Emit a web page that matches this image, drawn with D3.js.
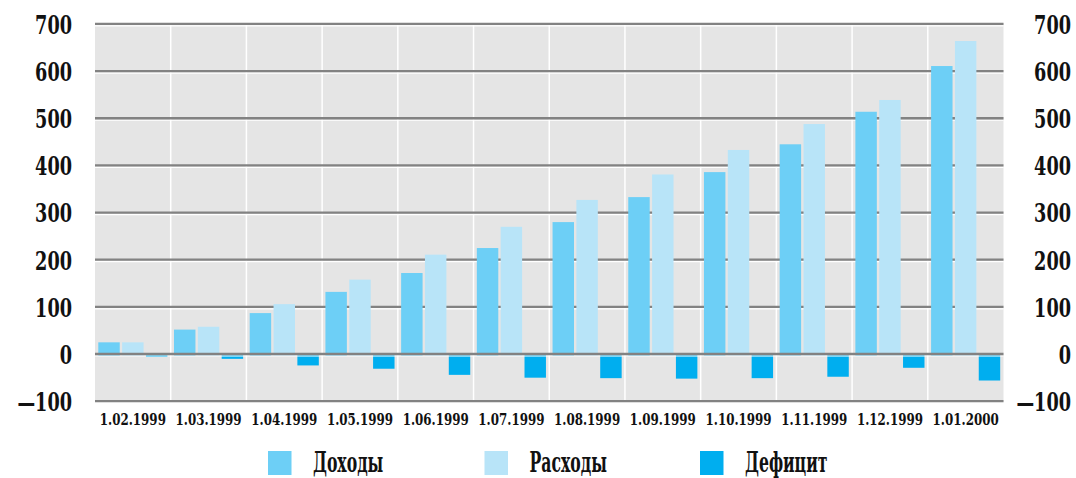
<!DOCTYPE html>
<html>
<head>
<meta charset="utf-8">
<script src="https://cdn.jsdelivr.net/npm/d3@7/dist/d3.min.js"></script>
<style>
  html, body { margin: 0; padding: 0; background: #fff; }
  svg { display: block; }
  text { font-family: "DejaVu Serif", serif; font-weight: bold; fill: #111; }
</style>
</head>
<body>
<svg id="chart" width="1076" height="478"></svg>
<script>
// Monthly budget figures, cumulative, Feb 1999 – Jan 2000
const categories = ["1.02.1999", "1.03.1999", "1.04.1999", "1.05.1999", "1.06.1999", "1.07.1999",
                    "1.08.1999", "1.09.1999", "1.10.1999", "1.11.1999", "1.12.1999", "1.01.2000"];
const income  = [29, 56, 91, 136, 176, 229, 284, 337, 390, 449, 518, 615];   // Доходы
const expense = [29, 62, 110, 162, 215, 274, 331, 385, 437, 492, 543, 668];  // Расходы
const deficit = [-2, -6, -20, -27, -40, -46, -47, -48, -47, -44, -25, -52];  // Дефицит
const seriesNames = ["Доходы", "Расходы", "Дефицит"];
const seriesColors = ["#6dcff6", "#b8e4f8", "#00aeef"];
const yTicks = [-100, 0, 100, 200, 300, 400, 500, 600, 700];
const yTickLabels = ["—100", "0", "100", "200", "300", "400", "500", "600", "700"];

const FONT = '"DejaVu Serif", serif';

const seriesValues = [income, expense, deficit];
const rows = categories.map((c, i) => ({
  cat: c,
  vals: seriesNames.map((s, k) => ({ key: s, value: seriesValues[k][i], color: seriesColors[k] }))
}));

const svg = d3.select("#chart");

const x0 = d3.scaleBand().domain(categories).range([95, 1003.5]).padding(0);
const x1 = d3.scaleBand().domain(seriesNames)
  .range([3.3, x0.bandwidth() - 3.3]).paddingInner(0.1);
const y = d3.scaleLinear().domain([-100, 700]).range([403.15, 25.95]);
const lineOff = -2; // grid rules sit just above their value

// plot panel
svg.append("rect")
  .attr("x", x0.range()[0]).attr("y", y(700) + lineOff - 1)
  .attr("width", x0.range()[1] - x0.range()[0])
  .attr("height", y(-100) - y(700) + 2)
  .attr("fill", "#e5e5e5");

// vertical separators between months
svg.append("g").selectAll("line")
  .data(categories.slice(1))
  .join("line")
  .attr("x1", d => x0(d)).attr("x2", d => x0(d))
  .attr("y1", y(700) + lineOff).attr("y2", y(-100) + lineOff)
  .attr("stroke", "#fff").attr("stroke-width", 1.5);

// horizontal rules: grey rule with a white highlight under it
function rule(g, v) {
  g.append("line")
    .attr("x1", x0.range()[0]).attr("x2", x0.range()[1])
    .attr("y1", y(v) + lineOff + 2).attr("y2", y(v) + lineOff + 2)
    .attr("stroke", "#fff").attr("stroke-width", 1.2);
  g.append("line")
    .attr("x1", x0.range()[0]).attr("x2", x0.range()[1])
    .attr("y1", y(v) + lineOff).attr("y2", y(v) + lineOff)
    .attr("stroke", "#828282").attr("stroke-width", 2.3);
}
const grid = svg.append("g");
yTicks.filter(v => v !== 0).forEach(v => rule(grid, v));

// bars
svg.append("g").selectAll("g")
  .data(rows)
  .join("g")
  .attr("transform", d => `translate(${x0(d.cat)},0)`)
  .selectAll("rect")
  .data(d => d.vals)
  .join("rect")
  .attr("x", d => x1(d.key))
  .attr("width", x1.bandwidth())
  .attr("y", d => d.value >= 0 ? y(d.value) : y(0) - 2)
  .attr("height", d => d.value >= 0 ? y(0) - y(d.value) : y(d.value) - (y(0) - 2))
  .attr("fill", d => d.color);

// zero rule above the bars
rule(svg.append("g"), 0);

// value axes on both sides
const yFmt = d => yTickLabels[yTicks.indexOf(d)];
function styleY(g) {
  g.attr("font-family", null).attr("font-size", null);
  g.select(".domain").remove();
  g.selectAll(".tick line").remove();
  g.selectAll(".tick text")
    .attr("x", 0).attr("dy", "0.36em")
    .attr("text-anchor", "end")
    .attr("transform", `translate(0,${lineOff}) scale(0.68,1)`)
    .style("font-size", "26px")
    .style("font-family", FONT)
    .style("font-weight", "bold")
    .attr("fill", "#111");
}
svg.append("g").attr("transform", "translate(72,0)")
  .call(d3.axisLeft(y).tickValues(yTicks).tickSize(0).tickPadding(0).tickFormat(yFmt))
  .call(styleY);
svg.append("g").attr("transform", "translate(1071,0)")
  .call(d3.axisRight(y).tickValues(yTicks).tickSize(0).tickPadding(0).tickFormat(yFmt))
  .call(styleY);

// month axis
svg.append("g").attr("transform", "translate(0,425)")
  .call(d3.axisBottom(x0).tickSize(0).tickPadding(0))
  .call(g => {
    g.attr("font-family", null).attr("font-size", null);
    g.select(".domain").remove();
    g.selectAll(".tick text")
      .attr("y", 0).attr("dy", 0)
      .attr("transform", "scale(0.72,1)")
      .style("font-size", "16.5px")
      .style("font-family", FONT)
      .style("font-weight", "bold")
      .attr("fill", "#111");
  });

// legend
const legendX = [268, 484.5, 700];
const legend = svg.append("g").selectAll("g")
  .data(seriesNames.map((s, k) => ({ name: s, color: seriesColors[k], x: legendX[k] })))
  .join("g")
  .attr("transform", d => `translate(${d.x},451)`);
legend.append("rect")
  .attr("width", 23.5).attr("height", 24)
  .attr("fill", d => d.color);
legend.append("text")
  .attr("transform", "translate(45,21) scale(0.58,1)")
  .style("font-size", "27px")
  .style("font-family", FONT)
  .text(d => d.name);
</script>
</body>
</html>
